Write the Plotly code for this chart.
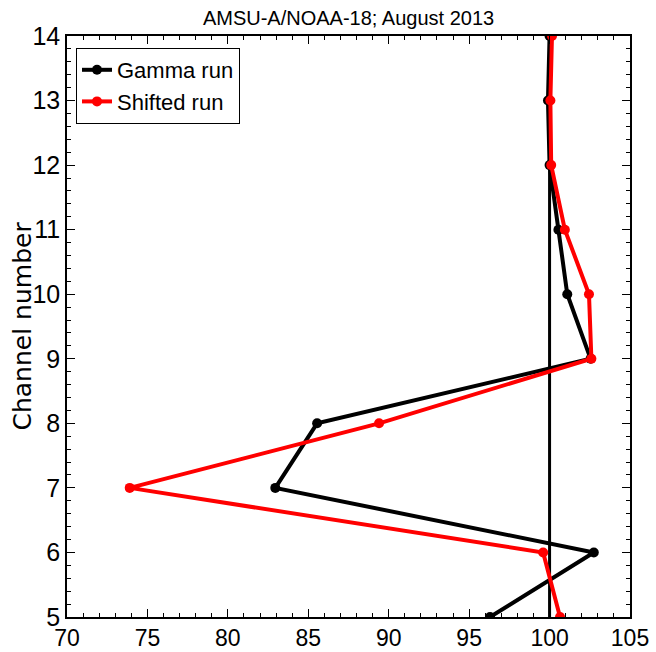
import plotly.graph_objects as go

channels = [5, 6, 7, 8, 9, 10, 11, 12, 13, 14]
gamma_run = [96.3, 102.75, 82.95, 85.55, 102.55, 101.1, 100.55, 100.0, 99.9, 100.0]
shifted_run = [100.65, 99.6, 73.9, 89.4, 102.6, 102.45, 100.95, 100.1, 100.05, 100.15]
ref_x = [100, 100]
ref_y = [5, 14]

SANS = "Liberation Sans, Arial, sans-serif"

fig = go.Figure()
fig.add_trace(go.Scatter(x=ref_x, y=ref_y, mode="lines",
                         line=dict(color="black", width=3), showlegend=False,
                         hoverinfo="skip"))
fig.add_trace(go.Scatter(x=gamma_run, y=channels, mode="lines+markers",
                         name="Gamma run",
                         line=dict(color="black", width=4),
                         marker=dict(color="black", size=10)))
fig.add_trace(go.Scatter(x=shifted_run, y=channels, mode="lines+markers",
                         name="Shifted run",
                         line=dict(color="#ff0000", width=4),
                         marker=dict(color="#ff0000", size=10)))

axis_common = dict(
    showline=True, linecolor="black", linewidth=1.5, mirror="ticks",
    ticks="inside", ticklen=8, tickwidth=1, tickcolor="black",
    showgrid=False, zeroline=False, automargin=False,
)

fig.update_xaxes(range=[70, 105], tick0=70, dtick=5,
                 tickfont=dict(family=SANS, size=23, color="black"),
                 minor=dict(ticks="inside", dtick=1, ticklen=4, tickcolor="black", showgrid=False),
                 **axis_common)
fig.update_yaxes(range=[5, 14], tick0=5, dtick=1,
                 tickfont=dict(family=SANS, size=25, color="black"),
                 minor=dict(ticks="inside", dtick=0.2, ticklen=4, tickcolor="black", showgrid=False),
                 **axis_common)

fig.update_layout(
    width=656, height=652,
    margin=dict(l=67, r=26, t=36, b=35),
    paper_bgcolor="white", plot_bgcolor="white",
    title=dict(text="AMSU-A/NOAA-18; August 2013", x=(67 + 630) / 2 / 656, xanchor="center",
               y=1 - 18 / 652, yanchor="middle", yref="container",
               font=dict(family=SANS, size=20, color="black")),
    legend=dict(x=(76 - 67) / 563, y=1 - (48 - 36) / 581, xanchor="left", yanchor="top",
                bordercolor="black", borderwidth=1, bgcolor="white",
                font=dict(family=SANS, size=22, color="black")),
    annotations=[dict(text="Channel number", textangle=-90, xref="paper", yref="paper",
                      x=(22 - 67) / 563, y=0.5, xanchor="center", yanchor="middle",
                      showarrow=False,
                      font=dict(family="DejaVu Sans, sans-serif", size=25, color="black"))],
)

fig.write_html("out.html")
